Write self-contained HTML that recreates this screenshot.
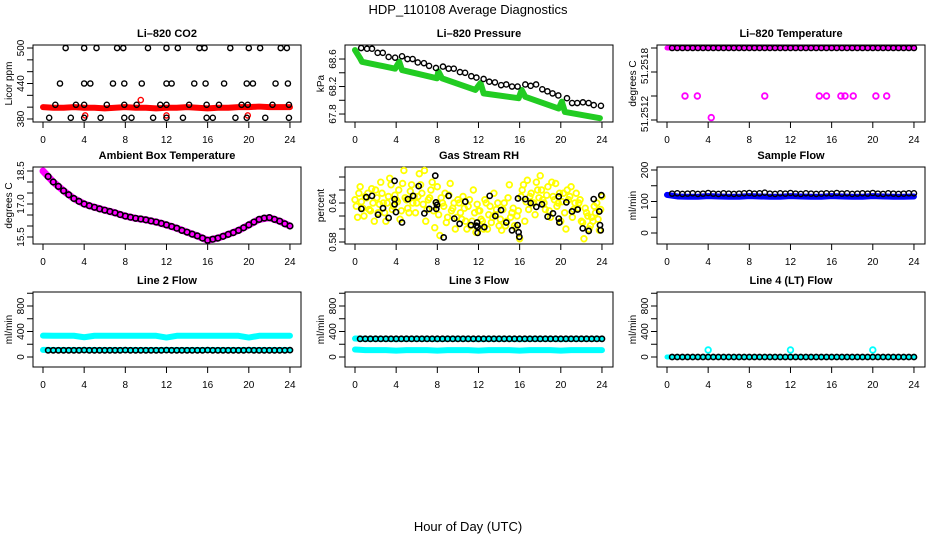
<!DOCTYPE html>
<html><head><meta charset="utf-8"><style>
html,body{margin:0;padding:0;background:#fff;}
svg{display:block;font-family:"Liberation Sans",Arial,sans-serif;}
</style></head><body>
<svg id="chart" width="936" height="540" viewBox="0 0 936 540" xmlns="http://www.w3.org/2000/svg">
<text x="468" y="14" text-anchor="middle" font-size="13">HDP_110108  Average Diagnostics</text>
<text x="468" y="531" text-anchor="middle" font-size="13">Hour of Day (UTC)</text>
</svg>
<script>
// ---- data ----
const hrs = [0,1,2,3,4,5,6,7,8,9,10,11,12,13,14,15,16,17,18,19,20,21,22,23,24];
const half = [0.5,1,1.5,2,2.5,3,3.5,4,4.5,5,5.5,6,6.5,7,7.5,8,8.5,9,9.5,10,10.5,11,11.5,12,12.5,13,13.5,14,14.5,15,15.5,16,16.5,17,17.5,18,18.5,19,19.5,20,20.5,21,21.5,22,22.5,23,23.5,24];
const quarter = [0,0.25,0.5,0.75,1,1.25,1.5,1.75,2,2.25,2.5,2.75,3,3.25,3.5,3.75,4,4.25,4.5,4.75,5,5.25,5.5,5.75,6,6.25,6.5,6.75,7,7.25,7.5,7.75,8,8.25,8.5,8.75,9,9.25,9.5,9.75,10,10.25,10.5,10.75,11,11.25,11.5,11.75,12,12.25,12.5,12.75,13,13.25,13.5,13.75,14,14.25,14.5,14.75,15,15.25,15.5,15.75,16,16.25,16.5,16.75,17,17.25,17.5,17.75,18,18.25,18.5,18.75,19,19.25,19.5,19.75,20,20.25,20.5,20.75,21,21.25,21.5,21.75,22,22.25,22.5,22.75,23,23.25,23.5,23.75,24];
const xTicks = [0,4,8,12,16,20,24];

// CO2
const co2T500 = [2.2,4.0,5.2,7.2,7.8,10.2,12.0,13.1,15.2,15.7,18.2,20.0,21.1,23.1,23.7];
const co2T440 = [1.65,4.0,4.6,6.8,7.9,9.6,12.0,12.5,14.7,15.8,17.6,19.8,20.4,22.6,23.8];
const co2T404 = [1.2,3.2,4.0,6.2,7.9,9.1,11.4,12.0,14.2,15.9,17.1,19.3,19.9,22.3,23.9];
const co2T382 = [0.6,2.7,4.0,5.6,7.9,8.6,10.7,12.0,13.6,15.9,16.5,18.7,19.8,21.6,23.9];
const co2Levels = [500,440,404,382];
const co2Red = [400,399,399,400,399,399,398,399,400,399,399,398,399,399,400,399,398,399,399,400,400,401,400,400,400];
const co2RedOutT = [4.1,9.5,12.0,19.9];
const co2RedOutV = [386,412,386,386];

// Pressure
const presBlackT = [0.6,1.17,1.65,2.2,2.7,3.27,3.9,4.57,5.1,5.6,6.1,6.7,7.2,7.87,8.55,9.1,9.6,10.2,10.7,11.3,11.8,12.5,13.05,13.6,14.2,14.7,15.26,15.8,16.55,17.07,17.6,18.2,18.7,19.2,19.76,20.6,21.1,21.6,22.15,22.7,23.2,23.9];
const presBlackV = [68.76,68.75,68.75,68.69,68.69,68.63,68.62,68.64,68.60,68.60,68.55,68.54,68.50,68.47,68.49,68.46,68.46,68.41,68.40,68.35,68.33,68.31,68.27,68.26,68.22,68.23,68.20,68.20,68.23,68.21,68.23,68.16,68.13,68.10,68.07,68.03,67.96,67.96,67.97,67.96,67.93,67.92];
const presGreenT = [0,0.5,0.68,3.9,4.3,4.57,7.97,8.1,8.45,11.7,12.2,12.5,15.9,16.2,16.55,19.8,20.1,20.4,23.8];
const presGreenV = [68.73,68.61,68.56,68.46,68.56,68.44,68.32,68.42,68.32,68.15,68.25,68.10,68.03,68.15,68.05,67.88,67.98,67.83,67.74];

// Li-820 temperature
const tempTop = [51.2518,51.2518,51.2518,51.2518,51.2518,51.2518,51.2518,51.2518,51.2518,51.2518,51.2518,51.2518,51.2518,51.2518,51.2518,51.2518,51.2518,51.2518,51.2518,51.2518,51.2518,51.2518,51.2518,51.2518,51.2518];
const tempOutT = [1.75,2.95,9.5,14.8,15.5,16.9,17.3,18.1,20.3,21.35,4.3];
const tempOutV = [51.2514,51.2514,51.2514,51.2514,51.2514,51.2514,51.2514,51.2514,51.2514,51.2514,51.25122];

// Ambient
const ambMag = [18.5,18.0,17.6,17.25,17.0,16.85,16.72,16.6,16.45,16.35,16.28,16.18,16.05,15.9,15.72,15.55,15.35,15.45,15.62,15.8,16.05,16.3,16.38,16.22,16.0];
const ambBlack = [18.25,18.0,17.8,17.6,17.42,17.25,17.12,17.0,16.92,16.85,16.78,16.72,16.66,16.6,16.52,16.45,16.4,16.35,16.32,16.28,16.23,16.18,16.12,16.05,15.98,15.9,15.8,15.72,15.63,15.55,15.45,15.35,15.4,15.45,15.53,15.62,15.7,15.8,15.92,16.05,16.18,16.3,16.36,16.38,16.3,16.22,16.1,16.0];

// RH
const rhYellowA = [.645,.618,.665,.632,.650,.655,.628,.640,.660,
.625,.672,.640,.612,.650,.668,.635,.645,
.660,.628,.690,.645,.625,.668,.650,.640,
.685,.655,.690,.630,.648,.672,.602,.665,
.590,.640,.655,.618,.670,.632,.600,.645,
.625,.650,.612,.635,.605,.660,.595,.628,
.615,.600,.640,.622,.610,.655,.630,.605,
.598,.640,.612,.668,.625,.605,.620,.585,
.660,.612,.675,.650,.640,.622,.660,.682,
.645,.630,.665,.618,.650,.670,.640,.612,
.655,.600,.645,.665,.630,.655,.640,.612,
.585,.625,.600,.618,.635,.640,.598,.650];
const rhYellowB = [.635,.655,.642,.620,.648,.630,.662,.612,
.648,.638,.655,.625,.640,.678,.630,.652,
.642,.615,.670,.648,.632,.658,.640,.625,
.650,.668,.638,.612,.645,.660,.628,.640,
.622,.648,.635,.610,.652,.628,.640,.618,
.640,.615,.632,.600,.645,.612,.625,.638,
.628,.612,.645,.600,.635,.618,.622,.640,
.615,.630,.605,.648,.618,.632,.602,.628,
.650,.668,.642,.630,.655,.640,.672,.648,
.660,.640,.652,.628,.672,.645,.635,.655,
.642,.625,.660,.650,.618,.640,.632,.645,
.610,.632,.620,.605,.612,.625,.615,.630];
const rhBlackT = [0.62,1.1,1.65,2.24,2.72,3.27,3.85,3.85,3.85,3.98,4.57,5.15,5.64,6.19,6.74,7.22,7.8,7.87,7.9,7.97,8.62,9.1,9.65,10.17,10.72,11.27,11.79,11.86,11.92,11.92,12.57,13.09,13.64,14.19,14.7,15.26,15.8,15.84,15.9,15.97,16.55,17.07,17.62,18.17,18.72,19.24,19.8,19.8,19.86,20.54,21.09,21.64,22.13,22.71,23.2,23.74,23.81,23.88,23.94];
const rhBlackV = [.631,.649,.651,.622,.632,.617,.674,.646,.638,.626,.610,.646,.651,.666,.624,.631,.682,.641,.631,.637,.587,.651,.616,.608,.642,.606,.605,.610,.603,.594,.603,.651,.620,.629,.610,.598,.606,.647,.595,.588,.646,.640,.634,.638,.619,.624,.650,.616,.610,.641,.627,.630,.601,.597,.646,.627,.606,.598,.652];

// Sample flow
const sampleBlue = [121,116,115,115,117,116,115,115,117,116,115,115,117,116,115,115,117,116,115,115,117,116,115,115,116];
const sampleBlack = [125,126,124,125,126,124,125,127,125,124,126,125,124,125,126,127,125,126,128,125,124,126,125,127,125,124,126,125,124,125,126,125,127,125,126,124,125,126,125,127,125,124,126,125,124,125,126,126];

// Line flows
const l2CyanHi = [335,333,333,333,310,333,333,333,333,333,333,333,305,333,333,333,333,333,333,333,305,333,333,333,333];
const l2CyanLo = [112,110,110,110,110,110,110,110,110,110,110,110,110,110,110,110,110,110,110,110,110,110,110,110,110];
const l2Black = [105,105,105,105,105,105,105,108,105,105,105,105,105,105,105,108,105,105,105,105,105,105,105,108,105,105,105,105,105,105,105,108,105,105,105,105,105,105,105,108,105,105,105,105,105,105,105,108];
const l3CyanHi = [290,285,285,285,280,285,285,285,280,285,285,285,280,285,285,285,280,285,285,285,280,285,285,285,285];
const l3CyanLo = [118,108,108,108,100,108,108,108,100,108,108,108,100,108,108,108,100,108,108,108,100,108,108,108,108];
const l3Black = [285,285,285,285,285,285,285,285,285,285,285,285,285,285,285,285,285,285,285,285,285,285,285,285,285,285,285,285,285,285,285,285,285,285,285,285,285,285,285,285,285,285,285,285,285,285,285,285];
const l4Cyan = [0,0,0,0,0,0,0,0,0,0,0,0,0,0,0,0,0,0,0,0,0,0,0,0,0];
const l4CyanOutT = [4,12,20];
const l4CyanOutV = [110,110,110];
const l4Black = [0,0,0,0,0,0,0,0,0,0,0,0,0,0,0,0,0,0,0,0,0,0,0,0,0,0,0,0,0,0,0,0,0,0,0,0,0,0,0,0,0,0,0,0,0,0,0,0];

// ---- drawing ----
const svg = document.getElementById('chart');
const NS = 'http://www.w3.org/2000/svg';
const colLeft = [33,345,657], colX0 = [43,355,667], pxH = 10.29, boxW = 268;
const rowTop = [45,167,292], rowBot = [122,244,367];

function mk(tag, parent){ const e=document.createElementNS(NS,tag); parent.appendChild(e); return e; }

function panel(c, r, name, title, ylab, ymin, ymax, ticks, labels, labelY){
  const g = mk('g', svg);
  
  
  const L=colLeft[c], T=rowTop[r], B=rowBot[r];
  const P = {
    x: t => colX0[c] + t*pxH,
    y: v => B - (v-ymin)/(ymax-ymin)*(B-T),
    g: g
  };
  const tt = mk('text', g);
  
  
  tt.setAttribute('x', L+boxW/2); tt.setAttribute('y', T-8);
  tt.setAttribute('text-anchor','middle'); tt.setAttribute('font-size','11'); tt.setAttribute('font-weight','bold');
  tt.textContent = title;
  const yl = mk('text', g);
  
  
  yl.setAttribute('transform', 'translate('+(L-21)+','+((T+B)/2)+') rotate(-90)');
  yl.setAttribute('text-anchor','middle'); yl.setAttribute('font-size','10');
  yl.textContent = ylab;
  xTicks.forEach(t => {
    const ln = mk('line', g);
    
    
    ln.setAttribute('x1',P.x(t)); ln.setAttribute('x2',P.x(t)); ln.setAttribute('y1',B); ln.setAttribute('y2',B+6);
    ln.setAttribute('stroke','#000');
    const lb = mk('text', g);
    
    
    lb.setAttribute('x',P.x(t)); lb.setAttribute('y',B+21); lb.setAttribute('text-anchor','middle'); lb.setAttribute('font-size','10');
    lb.textContent = t;
  });
  ticks.forEach(v => {
    const ln = mk('line', g);
    
    
    ln.setAttribute('x1',L); ln.setAttribute('x2',L-6); ln.setAttribute('y1',P.y(v)); ln.setAttribute('y2',P.y(v));
    ln.setAttribute('stroke','#000');
  });
  labels.forEach((s,i) => {
    const lb = mk('text', g);
    
    
    lb.setAttribute('transform','translate('+(L-9)+','+P.y(labelY[i])+') rotate(-90)');
    lb.setAttribute('text-anchor','middle'); lb.setAttribute('font-size','10');
    lb.textContent = s;
  });
  const bx = mk('rect', g);
  
  
  bx.setAttribute('x',L); bx.setAttribute('y',T); bx.setAttribute('width',boxW); bx.setAttribute('height',B-T);
  bx.setAttribute('fill','none'); bx.setAttribute('stroke','#000');
  return P;
}

function band(P, name, ts, vs, color, w){
  const pl = mk('polyline', P.g);
  
  
  pl.setAttribute('points', ts.map((t,i)=>P.x(t)+','+P.y(vs[i])).join(' '));
  pl.setAttribute('fill','none'); pl.setAttribute('stroke',color); pl.setAttribute('stroke-width',w);
  pl.setAttribute('stroke-linejoin','round'); pl.setAttribute('stroke-linecap','round');
}
function pts(P, name, ts, vs, color, r, sw){
  ts.forEach((t,i) => {
    const c = mk('circle', P.g);
    
    
    c.setAttribute('cx', P.x(t)); c.setAttribute('cy', P.y(vs[i])); c.setAttribute('r', r||2.6);
    c.setAttribute('fill','none'); c.setAttribute('stroke',color); c.setAttribute('stroke-width', sw||1.4);
  });
}

let P = panel(0,0,'co2','Li\u2013820 CO2','Licor ppm',374.9,505.1,[380,400,420,440,460,480,500],['380','440','500'],[380,440,500]);
band(P,'co2-red-band',hrs,co2Red,'#ff0000',6);
pts(P,'co2-red-outlier',co2RedOutT,co2RedOutV,'#ff0000');
[co2T500,co2T440,co2T404,co2T382].forEach((arr,k)=>pts(P,'co2-black-point',arr,arr.map(()=>co2Levels[k]),'#000'));

P = panel(1,0,'pressure','Li\u2013820 Pressure','kPa',67.684,68.804,[67.8,68.0,68.2,68.4,68.6],['67.8','68.2','68.6'],[67.8,68.2,68.6]);
band(P,'pressure-green-band',presGreenT,presGreenV,'#22cc22',6);
pts(P,'pressure-black-point',presBlackT,presBlackV,'#000');

P = panel(2,0,'li820-temp','Li\u2013820 Temperature','degrees C',51.25118333,51.251825,[51.2512,51.2514,51.2516,51.2518],['51.2512','51.2518'],[51.25125,51.25165]);
band(P,'temp-magenta-band',hrs,tempTop,'#ff00ff',5);
pts(P,'temp-black-point',half,half.map(()=>51.2518),'#000');
pts(P,'temp-magenta-outlier',tempOutT,tempOutV,'#ff00ff',2.8,1.8);

P = panel(0,1,'ambient-temp','Ambient Box Temperature','degrees C',15.182,18.682,[15.5,16,16.5,17,17.5,18,18.5],['15.5','17.0','18.5'],[15.5,17,18.5]);
band(P,'ambient-magenta-band',hrs,ambMag,'#ff00ff',7);
pts(P,'ambient-black-point',half,ambBlack,'#000',2.8,1.6);

P = panel(1,1,'gas-rh','Gas Stream RH','percent',0.57692,0.69538,[0.58,0.60,0.62,0.64,0.66,0.68],['0.58','0.64'],[0.58,0.64]);
pts(P,'rh-yellow-point',quarter,rhYellowA,'#ffff00',2.8,1.8);
pts(P,'rh-yellow-point',quarter.slice(0,96).map(t=>t+0.125),rhYellowB,'#ffff00',2.8,1.8);
pts(P,'rh-black-point',rhBlackT,rhBlackV,'#000',2.6,1.6);

P = panel(2,1,'sample-flow','Sample Flow','ml/min',-34.9,209.5,[0,50,100,150,200],['0','100','200'],[0,100,200]);
band(P,'sample-blue-band',hrs,sampleBlue,'#0000ff',6);
pts(P,'sample-black-point',half,sampleBlack,'#000');

const fT=[0,200,400,600,800,1000], fL=['0','400','800'], fY=[0,400,800];
P = panel(0,2,'line2-flow','Line 2 Flow','ml/min',-156.9,1019.6,fT,fL,fY);
band(P,'line2-cyan-high',hrs,l2CyanHi,'#00ffff',6);
band(P,'line2-cyan-low',hrs,l2CyanLo,'#00ffff',6);
pts(P,'line2-black-point',half,l2Black,'#000',2.6,1.6);

P = panel(1,2,'line3-flow','Line 3 Flow','ml/min',-156.9,1019.6,fT,fL,fY);
band(P,'line3-cyan-high',hrs,l3CyanHi,'#00ffff',6);
band(P,'line3-cyan-low',hrs,l3CyanLo,'#00ffff',6);
pts(P,'line3-black-point',half,l3Black,'#000',2.6,1.6);

P = panel(2,2,'line4-flow','Line 4 (LT) Flow','ml/min',-156.9,1019.6,fT,fL,fY);
band(P,'line4-cyan-band',hrs,l4Cyan,'#00ffff',5);
pts(P,'line4-cyan-outlier',l4CyanOutT,l4CyanOutV,'#00ffff',2.8,1.8);
pts(P,'line4-black-point',half,l4Black,'#000',2.6,1.6);
</script>
</body></html>
